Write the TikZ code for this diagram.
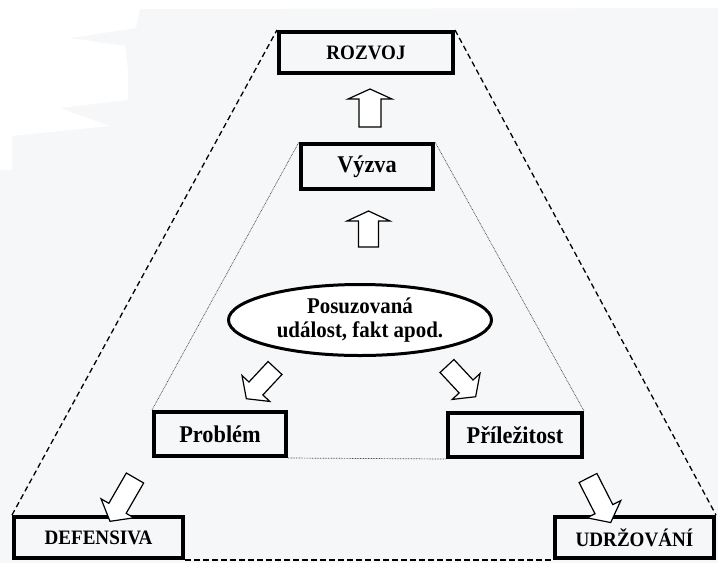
\documentclass[tikz,border=0pt]{standalone}
\usepackage{fontspec}
\setmainfont{Liberation Serif}
\newfontfamily\tallserif[FakeStretch=0.93]{Liberation Serif}
\usetikzlibrary{shapes.geometric}
\definecolor{bg}{HTML}{F6F7F9}
\begin{document}
\begin{tikzpicture}[x=1pt,y=-1pt,
  box/.style={draw=black, line width=4pt, fill=bg, inner sep=0pt,
    font=\tallserif\bfseries\fontsize{24}{27}\selectfont},
  capbox/.style={box, font=\tallserif\bfseries\fontsize{20.5}{23}\selectfont},
  eventnode/.style={ellipse, draw=black, line width=3pt, fill=white, inner sep=0pt,
    align=center, font=\tallserif\bfseries\fontsize{22.5}{24}\selectfont},
  outerline/.style={draw=black, line width=1.3pt, dash pattern=on 5.5pt off 3.5pt},
  innerline/.style={draw=black!70, line width=0.7pt, dash pattern=on 0.8pt off 0.8pt},
  arrowline/.style={draw=black, line width=1.2pt, fill=white, line join=miter},
  pics/barrow/.style n args={4}{code={
    \draw[arrowline] (0,-#2) -- ({#1-#4},-#2) -- ({#1-#4},-#3) -- (#1,0)
      -- ({#1-#4},#3) -- ({#1-#4},#2) -- (0,#2) -- cycle;}}
]
\useasboundingbox (0,0) rectangle (718,563);
\fill[bg] (0,0) rectangle (718,563);
\fill[white] (0,0) -- (718,0) -- (718,8) -- (140,9) -- (136,28) -- (70,38) -- (125,46)
  -- (128,70) -- (128,100) -- (60,108) -- (110,126) -- (12,136) -- (12,170) -- (0,170) -- cycle;

% nodes
\node[capbox, minimum width=174pt, minimum height=41pt] (rozvoj) at (366,52.5) {ROZVOJ};
\node[box, minimum width=132pt, minimum height=45pt] (vyzva) at (367,166.5) {Výzva};
\node[eventnode, minimum width=263pt, minimum height=71pt] (event) at (360,320)
  {Posuzovaná\\událost, fakt apod.};
\node[box, minimum width=132pt, minimum height=44pt] (problem) at (220,434) {Problém};
\node[box, minimum width=134pt, minimum height=44pt] (prilezitost) at (515,435) {Příležitost};
\node[capbox, minimum width=169pt, minimum height=41pt] (defensiva) at (98.5,537.5) {DEFENSIVA};
\node[capbox, minimum width=159pt, minimum height=41pt] (udrzovani) at (634.5,537.5) {UDRŽOVÁNÍ};

% outer dashed trapezoid
\draw[outerline] (defensiva.north west) -- (rozvoj.north west);
\draw[outerline] (rozvoj.north east) -- (udrzovani.north east);
\draw[outerline] (defensiva.south east) -- (udrzovani.south west);

% inner dotted trapezoid
\draw[innerline] (problem.north west) -- (vyzva.north west);
\draw[innerline] (vyzva.north east) -- (prilezitost.north east);
\draw[innerline] (problem.south east) -- (prilezitost.south west);

% block arrows
\pic[rotate=90] at (370,127) {barrow={38}{11}{22}{10}};
\pic[rotate=90] at (368.5,247) {barrow={36}{10}{21.5}{10}};
\pic[rotate=227] at (275,368) {barrow={42}{9.5}{19}{14}};
\pic[rotate=313] at (447,366) {barrow={42}{9.5}{19}{14}};
\pic[rotate=240] at (135,478) {barrow={50}{10}{19}{15}};
\pic[rotate=297] at (588,478) {barrow={50}{10}{19}{15}};
\end{tikzpicture}
\end{document}
